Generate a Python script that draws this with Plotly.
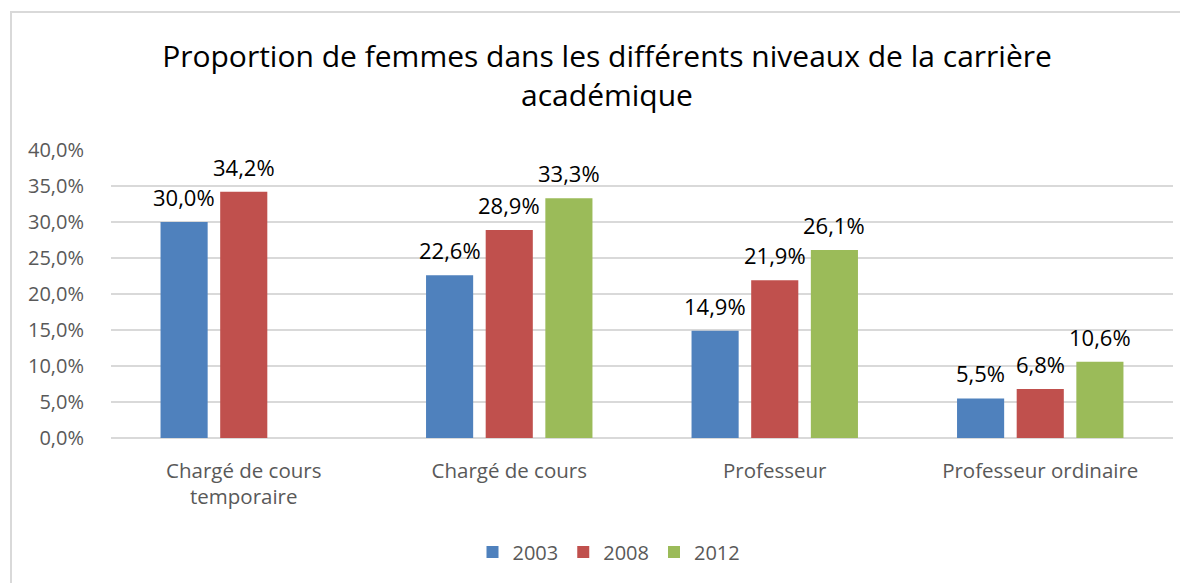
import plotly.graph_objects as go

categories = ["Chargé de cours<br>temporaire", "Chargé de cours", "Professeur", "Professeur ordinaire"]
years = ["2003", "2008", "2012"]
v2003 = [0.300, 0.226, 0.149, 0.055]
v2008 = [0.342, 0.289, 0.219, 0.068]
v2012 = [None, 0.333, 0.261, 0.106]
colors = ["#4F81BD", "#C0504D", "#9BBB59"]

FONT = "Open Sans"
OFF = 8  # page body offset
W, H = 1188 - OFF, 583 - OFF
L, R, T, B = 111 - OFF, 15, 150 - OFF, 145
BARGAP, GROUPGAP = 0.326, 0.21

fig = go.Figure()
series = [v2003, v2008, v2012]
for name, vals, c in zip(years, series, colors):
    fig.add_trace(go.Bar(
        name=name, x=list(range(len(categories))), y=vals, marker_color=c, marker_line_width=0,
    ))

# data labels above bars
slot = (1 - BARGAP) / len(series)
annotations = []
for k, vals in enumerate(series):
    for i, v in enumerate(vals):
        if v is None:
            continue
        annotations.append(dict(
            x=i + (k - (len(series) - 1) / 2) * slot, y=v, xref="x", yref="y",
            text=f"{v*100:.1f}%".replace(".", ","), showarrow=False,
            yanchor="bottom", xanchor="center", yshift=8,
            font=dict(family=FONT, size=22, color="#000000")))

pw, ph = W - L - R, H - T - B
fig.update_layout(
    width=W, height=H,
    margin=dict(l=L, r=R, t=T, b=B, autoexpand=False),
    paper_bgcolor="white", plot_bgcolor="white",
    separators=", ",
    barmode="group", bargap=BARGAP, bargroupgap=GROUPGAP,
    title=dict(text="Proportion de femmes dans les différents niveaux de la carrière<br>académique",
               x=(607 - OFF - L) / pw, xref="paper", xanchor="center",
               y=1 - 59 / H, yref="container", yanchor="top",
               font=dict(family=FONT, size=30, color="#000000")),
    font=dict(family=FONT, color="#595959"),
    legend=dict(orientation="h", x=(609 - OFF - L) / pw, xanchor="center",
                y=(438 - 552) / ph, yanchor="middle",
                font=dict(family=FONT, size=20, color="#595959"),
                itemwidth=30, traceorder="normal"),
    showlegend=True,
    annotations=annotations,
    shapes=[dict(type="rect", xref="paper", yref="paper",
                 x0=(11 - 111) / pw, x1=(1192 - 111) / pw,
                 y0=(438 - 592) / ph, y1=1 + (150 - 12) / ph,
                 line=dict(color="#D9D9D9", width=2), fillcolor="rgba(0,0,0,0)", layer="below")],
)
fig.update_yaxes(range=[0, 0.40], dtick=0.05, tickformat=".1%",
                 showgrid=True, gridcolor="#D9D9D9", gridwidth=1.5,
                 zeroline=True, zerolinecolor="#D9D9D9", zerolinewidth=1.5,
                 showline=False, ticks="outside", ticklen=22, tickcolor="rgba(0,0,0,0)",
                 tickfont=dict(family=FONT, size=20, color="#595959"))
fig.update_xaxes(showgrid=False, showline=False, ticks="outside", ticklen=14,
                 tickcolor="rgba(0,0,0,0)", range=[-0.5, len(categories) - 0.5],
                 tickvals=list(range(len(categories))), ticktext=categories,
                 tickfont=dict(family=FONT, size=20.5, color="#595959"))

fig.write_html("out.html")
